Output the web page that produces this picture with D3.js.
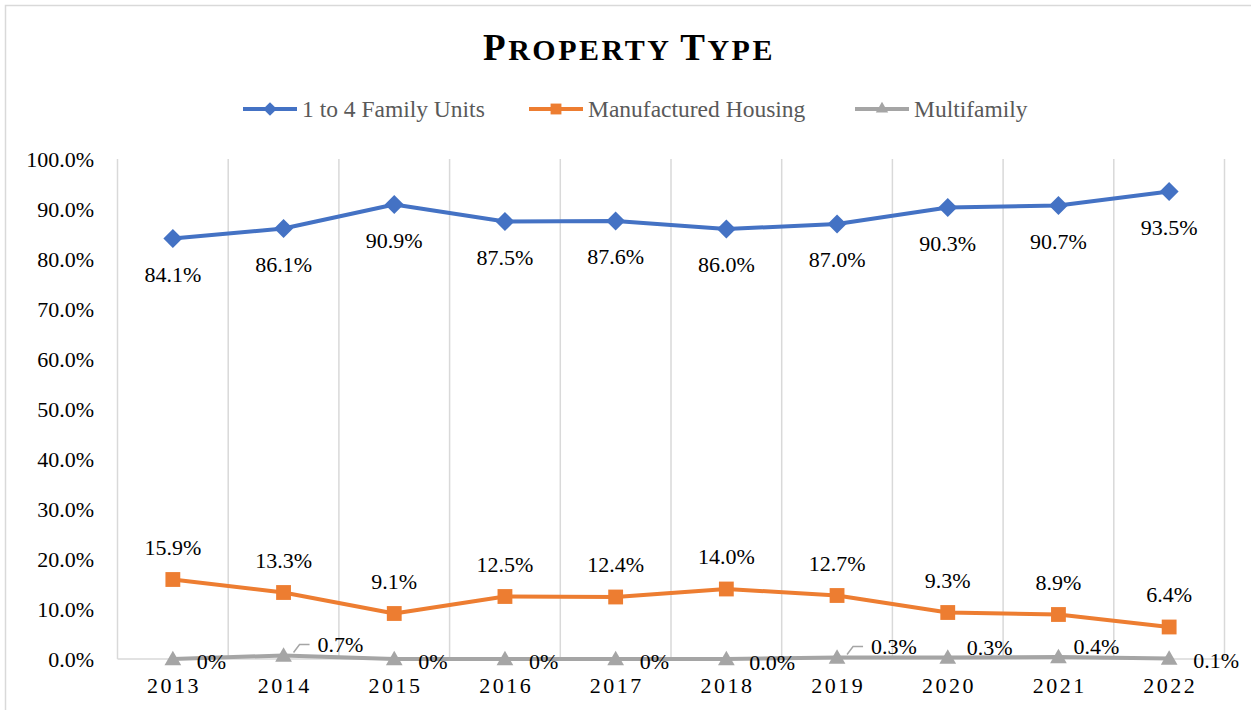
<!DOCTYPE html>
<html>
<head>
<meta charset="utf-8">
<script src="https://cdn.jsdelivr.net/npm/d3@7"></script>
<style>
  body { margin: 0; background: #fff; }
  svg text { font-family: "Liberation Serif", "Times New Roman", serif; }
</style>
</head>
<body>
<div id="chart"></div>
<script>
// data
var years = ["2013", "2014", "2015", "2016", "2017", "2018", "2019", "2020", "2021", "2022"];
var familyUnits = [84.1, 86.1, 90.9, 87.5, 87.6, 86.0, 87.0, 90.3, 90.7, 93.5];
var manufactured = [15.9, 13.3, 9.1, 12.5, 12.4, 14.0, 12.7, 9.3, 8.9, 6.4];
var multifamily = [0, 0.7, 0, 0, 0, 0.0, 0.3, 0.3, 0.4, 0.1];
var multifamilyLabels = ["0%", "0.7%", "0%", "0%", "0%", "0.0%", "0.3%", "0.3%", "0.4%", "0.1%"];
var yTicks = [0, 10, 20, 30, 40, 50, 60, 70, 80, 90, 100];

// label nudges for the gray series (dx, dy from the point, leader line or not)
var grayNudge = [
    [24, 2, false], [34, -11, true], [24, 2, false], [24, 2, false], [24, 2, false],
    [23, 3, false], [34, -11, true], [19, -10, false], [15, -11, false], [24, 2, false]
];

var W = 1251, H = 710;
var labelSize = 22;
var svg = d3.select('#chart').append('svg')
    .attr('width', W)
    .attr('height', H);

// outer border
svg.append('rect')
    .attr('x', 5.5).attr('y', 5.5)
    .attr('width', W + 20).attr('height', H + 20)
    .attr('fill', 'none')
    .attr('stroke', '#D9D9D9')
    .attr('stroke-width', 1.5);

var plotLeft = 117.5, plotRight = 1224.5, plotTop = 159, plotBottom = 659;

var x = d3.scaleBand().domain(years).range([plotLeft, plotRight]);
var y = d3.scaleLinear().domain([0, 100]).range([plotBottom, plotTop]);

// vertical gridlines at band edges
var edges = years.map(function (d) { return x(d); }).concat([plotRight]);
svg.append('g').selectAll('line').data(edges)
    .enter().append('line')
    .attr('x1', function (d) { return d; })
    .attr('x2', function (d) { return d; })
    .attr('y1', plotTop).attr('y2', plotBottom)
    .attr('stroke', '#D9D9D9')
    .attr('stroke-width', 1.5);

// bottom axis line
svg.append('line')
    .attr('x1', plotLeft).attr('x2', plotRight)
    .attr('y1', plotBottom).attr('y2', plotBottom)
    .attr('stroke', '#D9D9D9')
    .attr('stroke-width', 1.5);

// y axis labels
var yAxis = d3.axisLeft(y).tickValues(yTicks)
    .tickSize(0).tickPadding(0)
    .tickFormat(function (d) { return d3.format('.1f')(d) + '%'; });
var gy = svg.append('g').attr('transform', 'translate(94,0)').call(yAxis);
gy.select('.domain').remove();
gy.selectAll('text')
    .attr('font-size', labelSize)
    .attr('fill', '#000')
    .attr('dy', '0.36em')
    .style('font-family', '"Liberation Serif", serif');

// x axis labels
var xAxis = d3.axisBottom(x).tickSize(0).tickPadding(0);
var gx = svg.append('g').attr('transform', 'translate(0,' + 693 + ')').call(xAxis);
gx.select('.domain').remove();
gx.selectAll('text')
    .attr('font-size', labelSize)
    .attr('fill', '#000')
    .attr('dy', 0)
    .attr('dx', '1.2px')
    .style('letter-spacing', '2.5px')
    .style('font-family', '"Liberation Serif", serif');

var cx = function (d, i) { return x(years[i]) + x.bandwidth() / 2; };

var series = [
    { name: "1 to 4 Family Units", values: familyUnits, color: "#4472C4", shape: d3.symbolDiamond2 },
    { name: "Manufactured Housing", values: manufactured, color: "#ED7D31", shape: d3.symbolSquare2 },
    { name: "Multifamily", values: multifamily, color: "#A5A5A5", shape: d3.symbolTriangle2 }
];

var line = d3.line()
    .x(cx)
    .y(function (d) { return y(d); });

// draw gray first so others sit on top
series.slice().reverse().forEach(function (s) {
    svg.append('path')
        .datum(s.values)
        .attr('d', line)
        .attr('fill', 'none')
        .attr('stroke', s.color)
        .attr('stroke-width', 4)
        .attr('stroke-linejoin', 'round');

    var size = s.shape === d3.symbolDiamond2 ? 230 : (s.shape === d3.symbolSquare2 ? 280 : 200);
    svg.append('g').selectAll('path').data(s.values)
        .enter().append('path')
        .attr('d', d3.symbol().type(s.shape).size(size))
        .attr('transform', function (d, i) {
            var off = s.shape === d3.symbolTriangle2 ? 1.5 : 0;
            return 'translate(' + cx(d, i) + ',' + (y(d) + off) + ')';
        })
        .attr('fill', s.color);
});

// data labels: blue below, orange above
svg.append('g').selectAll('text').data(familyUnits)
    .enter().append('text')
    .attr('x', cx)
    .attr('y', function (d) { return y(d) + 43; })
    .attr('text-anchor', 'middle')
    .attr('font-size', labelSize)
    .attr('fill', '#000')
    .text(function (d) { return d.toFixed(1) + '%'; });

svg.append('g').selectAll('text').data(manufactured)
    .enter().append('text')
    .attr('x', cx)
    .attr('y', function (d) { return y(d) - 25; })
    .attr('text-anchor', 'middle')
    .attr('font-size', labelSize)
    .attr('fill', '#000')
    .text(function (d) { return d.toFixed(1) + '%'; });

// gray labels with leader lines
multifamily.forEach(function (d, i) {
    var px = cx(d, i), py = y(d);
    var n = grayNudge[i];
    if (n[2]) {
        svg.append('polyline')
            .attr('points', [[px + 10, py - 3], [px + 16, py - 11], [px + 26, py - 11]].join(' '))
            .attr('fill', 'none')
            .attr('stroke', '#A5A5A5')
            .attr('stroke-width', 1.5);
    }
    svg.append('text')
        .attr('x', px + n[0])
        .attr('y', py + n[1])
        .attr('dy', '0.35em')
        .attr('font-size', labelSize)
        .attr('fill', '#000')
        .text(multifamilyLabels[i]);
});

// title
var title = svg.append('text')
    .attr('x', 629)
    .attr('y', 60)
    .attr('text-anchor', 'middle')
    .attr('font-weight', 'bold')
    .attr('fill', '#000')
    .style('letter-spacing', '2.5px');
title.append('tspan').attr('font-size', 37).text('P');
title.append('tspan').attr('font-size', 30).text('ROPERTY ');
title.append('tspan').attr('font-size', 37).text('T');
title.append('tspan').attr('font-size', 30).text('YPE');

// legend
var legendPos = [243, 529, 855];
series.forEach(function (s, i) {
    var g = svg.append('g').attr('transform', 'translate(' + legendPos[i] + ',109)');
    g.append('line')
        .attr('x1', 0).attr('x2', 54)
        .attr('y1', 0).attr('y2', 0)
        .attr('stroke', s.color)
        .attr('stroke-width', 4);
    var size = s.shape === d3.symbolDiamond2 ? 120 : (s.shape === d3.symbolSquare2 ? 150 : 110);
    g.append('path')
        .attr('d', d3.symbol().type(s.shape).size(size))
        .attr('transform', 'translate(27,0)')
        .attr('fill', s.color);
    g.append('text')
        .attr('x', 59)
        .attr('y', 0)
        .attr('dy', '0.35em')
        .attr('font-size', 23.5)
        .attr('fill', '#595959')
        .text(s.name);
});
</script>
</body>
</html>
